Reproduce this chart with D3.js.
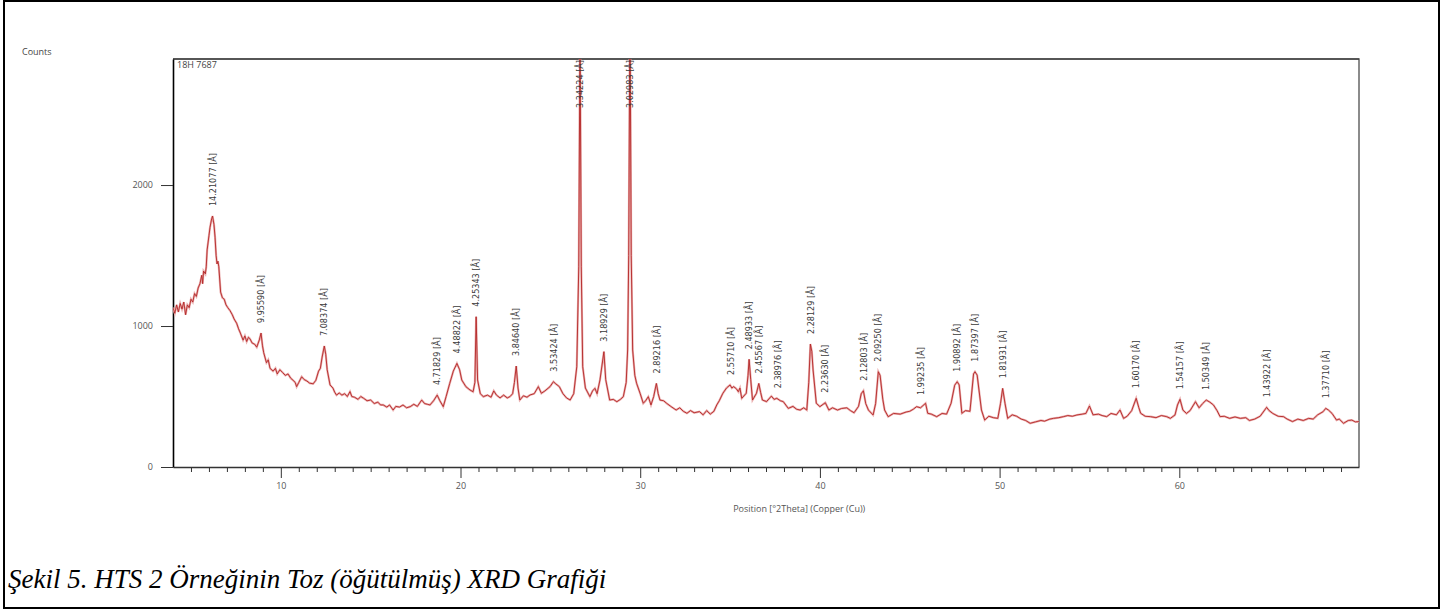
<!DOCTYPE html>
<html>
<head>
<meta charset="utf-8">
<script src="https://cdn.jsdelivr.net/npm/d3@7"></script>
<style>
  body { margin: 0; background: #fff; }
  .tick-text { font-family: "Open Sans", "DejaVu Sans", sans-serif; font-size: 9px; fill: #555; }
  .peak-label { font-family: "Liberation Sans Narrow", "DejaVu Sans Condensed", sans-serif; font-size: 9px; fill: #3a3a3a; }
  .caption { font-family: "Liberation Serif", "Times New Roman", serif; font-style: italic; font-size: 27px; fill: #000; }
</style>
</head>
<body>
<div id="xrdChart"></div>
<script>
// measured pattern: [2theta, counts]
const trace = [
  [4.0,1130],[4.1,1090],[4.2,1150],[4.3,1100],[4.4,1160],[4.5,1120],[4.6,1170],[4.7,1080],[4.8,1150],[4.9,1130],
  [5.0,1190],[5.1,1170],[5.2,1230],[5.3,1210],[5.4,1270],[5.5,1300],[5.6,1360],[5.65,1300],[5.7,1390],[5.8,1370],
  [5.85,1420],[5.9,1540],[6.0,1640],[6.06,1700],[6.15,1760],[6.2,1780],[6.28,1720],[6.34,1630],[6.4,1500],[6.45,1440],
  [6.5,1460],[6.55,1420],[6.65,1240],[6.75,1200],[6.85,1190],[6.95,1150],[7.05,1130],[7.17,1110],[7.3,1080],[7.4,1050],
  [7.54,1020],[7.65,980],[7.75,950],[7.9,900],[8.0,930],[8.1,890],[8.2,920],[8.28,910],[8.4,880],[8.55,870],
  [8.66,850],[8.8,900],[8.9,950],[8.98,860],[9.05,810],[9.2,740],[9.3,760],[9.4,700],[9.57,680],[9.7,700],
  [9.8,660],[9.95,690],[10.1,670],[10.25,650],[10.4,660],[10.55,630],[10.68,615],[10.8,600],[10.88,570],[11.0,600],
  [11.16,640],[11.3,620],[11.45,610],[11.6,595],[11.8,590],[11.95,615],[12.1,680],[12.2,700],[12.3,780],[12.42,858],
  [12.5,800],[12.58,690],[12.74,582],[12.9,560],[13.0,530],[13.1,510],[13.25,525],[13.4,510],[13.55,520],[13.7,500],
  [13.85,535],[13.95,500],[14.1,495],[14.3,480],[14.45,500],[14.6,488],[14.8,470],[15.0,475],[15.2,450],[15.4,460],
  [15.55,440],[15.7,440],[15.9,425],[16.05,440],[16.25,404],[16.4,430],[16.6,425],[16.8,440],[17.0,420],[17.2,428],
  [17.4,445],[17.6,430],[17.84,475],[18.0,450],[18.15,445],[18.3,440],[18.5,470],[18.7,510],[18.85,470],[19.04,428],
  [19.2,500],[19.4,593],[19.6,680],[19.8,735],[19.95,690],[20.07,617],[20.3,570],[20.53,546],[20.7,534],[20.8,600],
  [20.87,1066],[20.95,617],[21.1,520],[21.27,499],[21.5,510],[21.7,495],[21.85,540],[22.0,510],[22.2,490],[22.4,510],
  [22.6,490],[22.75,499],[22.9,520],[23.0,600],[23.1,716],[23.2,560],[23.3,475],[23.5,505],[23.7,495],[23.87,511],
  [24.1,520],[24.33,570],[24.5,523],[24.7,540],[24.98,570],[25.17,605],[25.3,590],[25.5,570],[25.7,520],[25.9,490],
  [26.1,475],[26.3,520],[26.47,711],[26.58,1420],[26.65,3100],[26.72,1420],[26.8,711],[26.95,560],[27.2,499],[27.35,540],
  [27.48,558],[27.6,520],[27.76,617],[27.98,818],[28.08,620],[28.3,475],[28.5,480],[28.7,463],[28.9,480],[29.06,499],
  [29.22,600],[29.3,830],[29.36,1500],[29.43,3300],[29.5,1500],[29.58,830],[29.7,650],[29.8,593],[30.0,520],[30.17,452],
  [30.3,470],[30.45,499],[30.6,440],[30.75,500],[30.9,593],[31.0,520],[31.1,475],[31.3,470],[31.47,452],[31.7,430],
  [32.0,404],[32.2,420],[32.4,395],[32.6,381],[32.8,400],[33.0,385],[33.3,393],[33.5,370],[33.7,400],[33.9,375],
  [34.1,395],[34.26,440],[34.4,470],[34.6,523],[34.8,560],[35.0,582],[35.1,560],[35.2,570],[35.35,555],[35.46,534],
  [35.55,560],[35.65,487],[35.9,523],[36.0,650],[36.06,764],[36.15,620],[36.25,475],[36.47,523],[36.6,593],[36.7,530],
  [36.8,475],[37.03,464],[37.3,503],[37.45,480],[37.6,487],[37.8,470],[37.96,464],[38.24,416],[38.5,430],[38.7,410],
  [38.9,404],[39.1,420],[39.27,404],[39.38,600],[39.47,872],[39.55,820],[39.62,688],[39.8,452],[40.0,428],[40.3,456],
  [40.5,404],[40.7,420],[40.98,404],[41.2,415],[41.5,420],[41.7,400],[41.9,385],[42.15,430],[42.3,520],[42.42,541],
  [42.55,450],[42.7,404],[42.96,369],[43.1,450],[43.25,676],[43.35,650],[43.5,480],[43.6,404],[43.8,357],[44.1,380],
  [44.47,375],[44.8,390],[45.0,395],[45.2,410],[45.38,428],[45.6,420],[45.88,452],[46.0,381],[46.2,375],[46.5,357],
  [46.8,380],[47.05,375],[47.3,452],[47.5,580],[47.64,605],[47.75,582],[47.9,381],[48.1,400],[48.35,395],[48.55,660],
  [48.63,676],[48.75,652],[48.99,404],[49.17,333],[49.4,360],[49.65,350],[49.9,345],[50.05,450],[50.17,558],[50.3,452],
  [50.45,345],[50.7,370],[50.95,360],[51.2,340],[51.45,330],[51.7,310],[52.0,320],[52.3,330],[52.5,325],[52.8,340],
  [53.0,345],[53.3,350],[53.55,357],[53.8,365],[54.05,360],[54.3,369],[54.6,375],[54.8,380],[55.0,433],[55.2,370],
  [55.5,375],[55.7,365],[55.96,357],[56.2,380],[56.5,370],[56.7,404],[56.9,345],[57.1,360],[57.35,400],[57.6,487],
  [57.75,420],[57.85,381],[58.1,360],[58.4,357],[58.7,350],[59.0,365],[59.3,357],[59.5,345],[59.76,369],[59.9,440],
  [60.04,480],[60.2,404],[60.4,380],[60.6,400],[60.9,463],[61.1,420],[61.3,450],[61.5,475],[61.7,460],[61.9,440],
  [62.1,400],[62.27,357],[62.5,360],[62.8,345],[63.1,355],[63.4,345],[63.7,350],[63.9,330],[64.2,340],[64.5,360],
  [64.86,423],[65.0,400],[65.2,380],[65.5,360],[65.8,357],[66.0,340],[66.3,322],[66.6,340],[66.9,330],[67.2,345],
  [67.45,340],[67.7,370],[68.0,392],[68.15,416],[68.3,404],[68.5,380],[68.75,333],[68.9,340],[69.14,310],[69.4,330],
  [69.6,333],[69.8,320],[70.0,322]
];

// peak annotations (d-spacing), position and peak height
const peakLabels = ["14.21077","9.95590","7.08374","4.71829","4.48822","4.25343","3.84640","3.53424","3.34224","3.18929",
  "3.02983","2.89216","2.55710","2.48933","2.45567","2.38976","2.28129","2.23630","2.12803","2.09250",
  "1.99235","1.90892","1.87397","1.81931","1.60170","1.54157","1.50349","1.43922","1.37710"];
const peakPos = [6.2,8.9,12.42,18.7,19.8,20.87,23.1,25.17,26.65,27.98,
  29.43,30.9,35.05,36.06,36.6,37.65,39.47,40.3,42.42,43.25,
  45.6,47.64,48.6,50.17,57.6,60.04,61.5,64.86,68.15];
const peakHeight = [1780,950,858,510,735,1066,716,605,3100,818,
  3300,593,582,764,593,487,872,456,541,676,
  440,605,676,558,487,480,475,423,416];

// axis ticks
const xMajorTicks = [10, 20, 30, 40, 50, 60];
const yTicks = [0, 1000, 2000];
const xDomain = [4, 70];
const yMax = 2894;

const sampleName = "18H 7687";
const yLabel = "Counts";
const xLabel = "Position [°2Theta] (Copper (Cu))";
const captionText = "Şekil 5. HTS 2 Örneğinin Toz (öğütülmüş) XRD Grafiği";

const W = 1456, H = 612;
const margin = {top: 59, right: 97, bottom: 145, left: 173},
    width = W - margin.left - margin.right,
    height = H - margin.top - margin.bottom;

const svgRoot = d3.select("#xrdChart")
  .append("svg")
    .attr("width", W)
    .attr("height", H);

// page frame
svgRoot.append("rect")
  .attr("x", 4).attr("y", 1)
  .attr("width", 1435).attr("height", 607)
  .attr("fill", "none")
  .attr("stroke", "#000")
  .attr("stroke-width", 2);

const svg = svgRoot.append("g")
  .attr("transform", "translate(" + margin.left + "," + margin.top + ")");

const xScale = d3.scaleLinear().domain(xDomain).range([0, width]);
const yScale = d3.scaleLinear().domain([0, yMax]).range([height, 0]);

svg.append("clipPath").attr("id", "plotClip")
  .append("rect").attr("width", width).attr("height", height);

// plot box (top + right in grey)
svg.append("path")
  .attr("d", `M0,0H${width}V${height}`)
  .attr("fill", "none")
  .attr("stroke", "#666")
  .attr("stroke-width", 1.5);
svg.append("line")
  .attr("x1", 0).attr("x2", width).attr("y1", 0).attr("y2", 0)
  .attr("stroke", "#222").attr("stroke-width", 1.2);

// minor x ticks every degree
const minorTicks = d3.range(xDomain[0] + 1, xDomain[1]).filter(d => d % 10 !== 0);
svg.append("g")
  .attr("transform", "translate(0," + height + ")")
  .call(d3.axisBottom(xScale).tickValues(minorTicks).tickSize(5).tickSizeOuter(0).tickFormat(""))
  .call(g => g.select(".domain").remove())
  .selectAll("line").attr("stroke", "#333");

// major x ticks
svg.append("g")
  .attr("transform", "translate(0," + height + ")")
  .call(d3.axisBottom(xScale).tickValues(xMajorTicks).tickSize(11).tickSizeOuter(0).tickPadding(5).tickFormat(d3.format("d")))
  .call(g => g.select(".domain").attr("stroke", "#333").attr("stroke-width", 1.3))
  .call(g => g.selectAll("line").attr("stroke", "#333"))
  .selectAll("text")
    .attr("class", "tick-text");

// y axis
svg.append("g")
  .call(d3.axisLeft(yScale).tickValues(yTicks).tickSize(12).tickSizeOuter(0).tickPadding(8).tickFormat(d3.format("d")))
  .call(g => g.select(".domain").attr("stroke", "#000").attr("stroke-width", 1.6))
  .call(g => g.selectAll("line").attr("stroke", "#333"))
  .selectAll("text")
    .attr("class", "tick-text");

// pattern line
const line = d3.line()
  .x(d => xScale(d[0]))
  .y(d => yScale(d[1]));

svg.append("path")
  .datum(trace)
  .attr("clip-path", "url(#plotClip)")
  .attr("fill", "none")
  .attr("stroke", "#eab0b0")
  .attr("stroke-width", 2.2)
  .attr("d", line);

svg.append("path")
  .datum(trace)
  .attr("clip-path", "url(#plotClip)")
  .attr("fill", "none")
  .attr("stroke", "#b32626")
  .attr("stroke-width", 0.9)
  .attr("d", line);

// peak labels, rotated, placed just above each peak
const peaks = peakLabels.map((l, i) => ({label: l + " [Å]", pos: peakPos[i], h: peakHeight[i]}));
svg.selectAll(".peak-label")
  .data(peaks)
  .enter()
  .append("text")
    .attr("class", "peak-label")
    .text(d => d.label)
    .each(function (d) {
      const len = this.getComputedTextLength();
      let base = yScale(d.h) - 10;
      if (base - len < 1) base = len + 1;
      d3.select(this)
        .attr("text-anchor", "start")
        .attr("dy", "0.35em")
        .attr("transform", `translate(${xScale(d.pos)},${base}) rotate(-90)`);
    });

// texts
svg.append("text")
  .attr("class", "tick-text")
  .attr("x", 4).attr("y", 9)
  .style("fill", "#444")
  .text(sampleName);

svgRoot.append("text")
  .attr("class", "tick-text")
  .attr("x", 22).attr("y", 55)
  .style("fill", "#444")
  .text(yLabel);

svg.append("text")
  .attr("class", "tick-text")
  .attr("text-anchor", "middle")
  .attr("x", width * 0.528)
  .attr("y", height + 45)
  .text(xLabel);

svgRoot.append("text")
  .attr("class", "caption")
  .attr("x", 8).attr("y", 588)
  .text(captionText);
</script>
</body>
</html>
